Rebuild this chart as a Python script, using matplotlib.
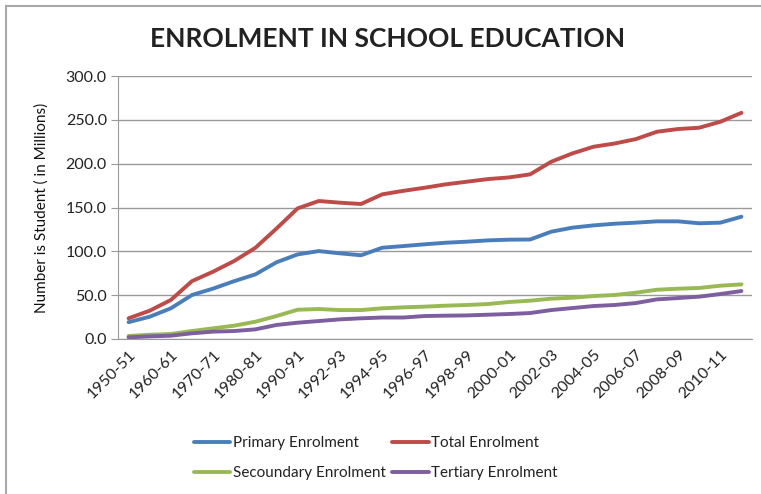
import matplotlib
matplotlib.use("Agg")
from matplotlib import pyplot as plt
from matplotlib.lines import Line2D

# enrolment in school education, millions of students
years = ['1950-51', '1955-56', '1960-61', '1965-66', '1970-71', '1975-76',
         '1980-81', '1985-86', '1990-91', '1991-92', '1992-93', '1993-94',
         '1994-95', '1995-96', '1996-97', '1997-98', '1998-99', '1999-00',
         '2000-01', '2001-02', '2002-03', '2003-04', '2004-05', '2005-06',
         '2006-07', '2007-08', '2008-09', '2009-10', '2010-11', '2011-12']

primary = [19.2, 25.4, 35.0, 50.2, 57.5, 66.0, 73.7, 87.5, 96.5, 100.3,
           97.7, 95.5, 104.1, 106.0, 108.0, 109.8, 111.0, 112.5, 113.3, 113.5,
           122.4, 127.0, 129.6, 131.5, 132.7, 134.2, 134.2, 132.0, 132.7, 139.5]

total = [23.6, 32.3, 44.5, 66.0, 76.8, 89.0, 104.0, 126.0, 149.0, 157.4,
         155.5, 154.0, 165.0, 169.0, 172.5, 176.4, 179.4, 182.4, 184.3, 187.8,
         202.2, 211.7, 219.3, 223.0, 228.0, 236.4, 239.5, 241.0, 247.8, 258.0]

secondary = [3.4, 4.9, 5.7, 9.1, 12.2, 15.2, 19.7, 26.2, 33.4, 34.2,
             33.0, 33.0, 35.0, 36.1, 36.9, 38.0, 38.8, 39.9, 42.2, 43.7,
             46.0, 47.1, 49.0, 50.2, 52.8, 56.2, 57.4, 58.2, 60.8, 62.3]

tertiary = [1.9, 3.0, 3.8, 6.5, 8.4, 9.1, 11.0, 16.0, 18.6, 20.5,
            22.4, 23.6, 24.5, 24.5, 26.2, 26.6, 26.9, 27.7, 28.5, 29.6,
            33.0, 35.3, 37.6, 38.8, 41.0, 45.2, 46.7, 48.3, 51.3, 54.7]

plt.rcParams['font.family'] = ['Lato', 'DejaVu Sans']

fig = plt.figure(figsize=(7.61, 4.94), dpi=100)

# grey frame along the top and left edge
fig.add_artist(Line2D([6 / 761, 6 / 761], [0, 1 - 6 / 494], transform=fig.transFigure,
                      color='#a8a8a8', lw=1.5))
fig.add_artist(Line2D([6 / 761, 1], [1 - 6 / 494, 1 - 6 / 494], transform=fig.transFigure,
                      color='#a8a8a8', lw=1.5))

ax = fig.add_axes([118 / 761, 1 - 339 / 494, 634 / 761, 263 / 494])

x = list(range(len(years)))
series = [
    (primary, 'Primary Enrolment', '#4a7ebb'),
    (total, 'Total Enrolment', '#be4b48'),
    (secondary, 'Secoundary Enrolment', '#98b954'),
    (tertiary, 'Tertiary Enrolment', '#7d5fa0'),
]
lines = {}
for vals, name, col in series:
    lines[name], = ax.plot(x, vals, color=col, lw=2.8, solid_joinstyle='round',
                           solid_capstyle='round', label=name)

ax.set_xlim(-0.5, len(years) - 0.5)
ax.set_ylim(0, 300)
ax.set_yticks(range(0, 301, 50))
ax.set_yticklabels(['%.1f' % v for v in range(0, 301, 50)], fontsize=11.5, color='#222222')
ax.yaxis.grid(True, color='#9a9a9a', lw=1)
ax.set_axisbelow(True)

ax.set_xticks(x[::2])
ax.set_xticklabels(years[::2], rotation=45, ha='right', rotation_mode='anchor',
                   fontsize=11.5, color='#222222')
ax.tick_params(axis='x', length=0, pad=6)
ax.tick_params(axis='y', length=5, color='#9a9a9a', pad=3)

for side in ['top', 'right']:
    ax.spines[side].set_visible(False)
for side in ['left', 'bottom']:
    ax.spines[side].set_color('#9a9a9a')

ax.set_ylabel('Number is Student ( in Millions)', fontsize=11, color='#111111', labelpad=12)

fig.text(388 / 761, 1 - 39 / 494, 'ENROLMENT IN SCHOOL EDUCATION', ha='center', va='center',
         fontsize=19, fontweight='bold', color='#222222')

# legend: column-major order gives Primary/Total on the first row
order = ['Primary Enrolment', 'Secoundary Enrolment', 'Total Enrolment', 'Tertiary Enrolment']
fig.legend([lines[n] for n in order], order, ncol=2, loc='center left',
           bbox_to_anchor=(180 / 761, 1 - 458 / 494), frameon=False, fontsize=11,
           handlelength=2.4, handletextpad=0.15, columnspacing=0.45, labelspacing=1.05,
           labelcolor='#222222')

fig.savefig('out.png', dpi=100)
